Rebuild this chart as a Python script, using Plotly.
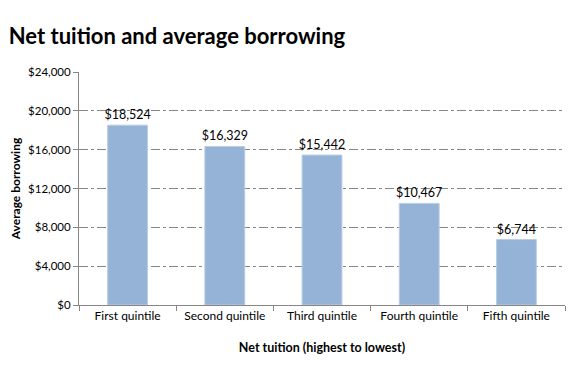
import plotly.graph_objects as go

categories = ["First quintile", "Second quintile", "Third quintile", "Fourth quintile", "Fifth quintile"]
values = [18524, 16329, 15442, 10467, 6744]
tick_vals = [0, 4000, 8000, 12000, 16000, 20000, 24000]
tick_text = ["$0", "$4,000", "$8,000", "$12,000", "$16,000", "$20,000", "$24,000"]
labels = ["${:,}".format(v) for v in values]

font = "Lato"
fig = go.Figure(go.Bar(
    x=categories, y=values, text=labels, textposition="outside",
    textfont=dict(family=font, size=12.5, color="black"),
    constraintext="none",
    marker=dict(color="#95B3D7", line=dict(color="#B9CDE5", width=1)),
    width=0.41, cliponaxis=False,
))
fig.update_layout(
    width=580, height=381,
    margin=dict(l=79, r=15, t=72, b=76),
    paper_bgcolor="white", plot_bgcolor="white",
    showlegend=False,
    font=dict(family=font, size=11, color="black"),
    title=dict(text="<b>Net tuition and average borrowing</b>", x=0.015, xanchor="left",
               xref="container",
               y=0.905, yanchor="middle", font=dict(family=font, size=22, color="black")),
)
fig.update_xaxes(
    automargin=False,
    showline=True, linecolor="#868686", linewidth=1,
    ticks="outside", tickson="boundaries", ticklen=5, tickcolor="#868686",
    tickfont=dict(family=font, size=12),
    title=dict(text="<b>Net tuition (highest to lowest)</b>", font=dict(family=font, size=12.5), standoff=20),
)
fig.update_yaxes(
    automargin=False,
    range=[0, 24000], tickvals=tick_vals, ticktext=tick_text,
    showline=True, linecolor="#868686", linewidth=1,
    ticks="outside", ticklen=5, tickcolor="#868686",
    showgrid=True, gridcolor="#868686", griddash="dashdot", gridwidth=1,
    zeroline=False,
    tickfont=dict(family=font, size=11.5),
    title=dict(text="<b>Average borrowing</b>", font=dict(family=font, size=12), standoff=4),
)
fig.write_html("out.html", config={"displayModeBar": False},
               post_script="document.body.style.margin='0';")
